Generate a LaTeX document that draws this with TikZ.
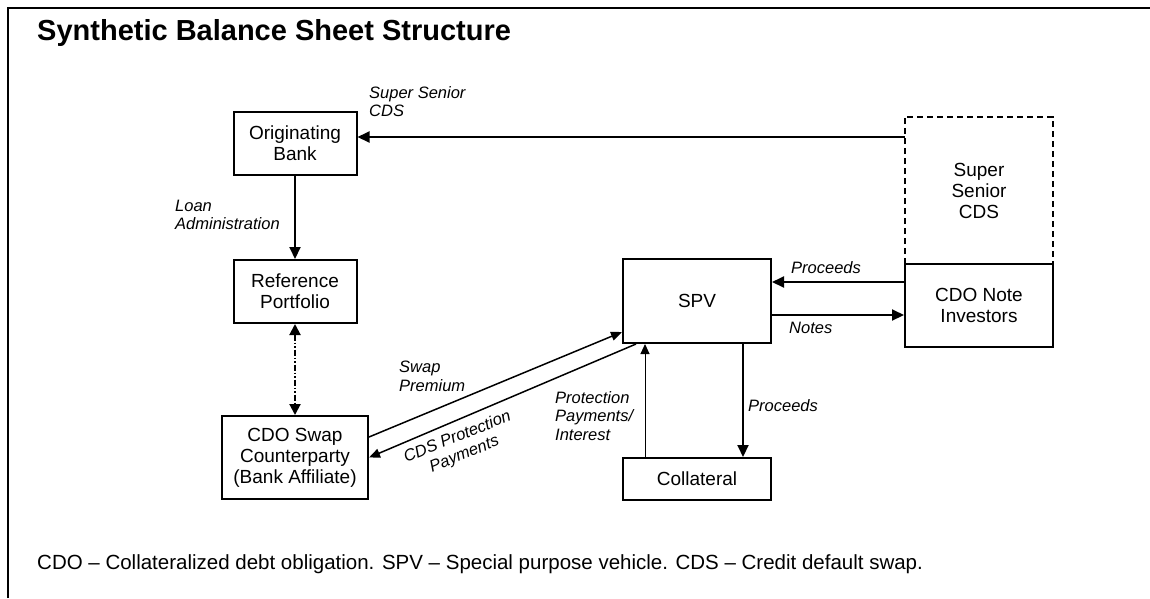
\documentclass[tikz,border=0pt]{standalone}
\usepackage{fontspec}
\setmainfont{Liberation Sans}
\usetikzlibrary{arrows.meta}

\newcommand{\boxfont}{\fontsize{19}{21}\selectfont}
\newcommand{\lblfont}{\fontsize{16.5}{18.5}\selectfont\itshape}

\begin{document}
\begin{tikzpicture}[x=1pt,y=-1pt,
    blk/.style={draw,line width=2pt,inner sep=0pt,align=center,font=\boxfont},
    lbl/.style={inner sep=0pt,align=left,font=\lblfont},
    arr/.style={line width=2pt,-{Triangle[length=12pt,width=11pt]}},
    thinarr/.style={line width=1pt,-{Triangle[length=10pt,width=9pt]}},
    slant/.style={line width=1.5pt,-{Triangle[length=11pt,width=9pt]}},
    dashbox/.style={line width=2pt,dash pattern=on 6pt off 4pt}]
        \useasboundingbox (0,0) rectangle (1150,598);
        % frame and title
        \draw[line width=2.5pt] (8,598) -- (8,8) -- (1150,8);
        \node[anchor=west,inner sep=0pt,font=\fontsize{29}{31}\selectfont\bfseries]
            (title) at (37,33) {Synthetic Balance Sheet Structure};
        % boxes
        \node[blk,minimum width=123,minimum height=63] (orig) at (295,143) {Originating\\Bank};
        \node[blk,minimum width=123,minimum height=63] (refport) at (295,291.5) {Reference\\Portfolio};
        \node[blk,minimum width=146,minimum height=83] (swapcp) at (295,457.5) {CDO Swap\\Counterparty\\(Bank Affiliate)};
        \node[blk,minimum width=148,minimum height=84] (spv) at (697,301) {SPV};
        \node[blk,minimum width=148,minimum height=42] (collat) at (697,479) {Collateral};
        \node[blk,minimum width=148,minimum height=83] (noteinv) at (979,305.5) {CDO Note\\Investors};
        \node[inner sep=0pt,align=center,font=\boxfont,minimum width=148,minimum height=147]
            (ssbox) at (979,190.5) {Super\\Senior\\CDS};
        \draw[dashbox] (ssbox.south west) -- (ssbox.north west) -- (ssbox.north east) -- (ssbox.south east);
        % connectors
        \coordinate (sstip) at ([yshift=6pt]orig.east);
        \draw[arr] (sstip -| ssbox.west) -- (sstip);
        \draw[arr] (orig.south) -- (refport.north);
        \draw[line width=2pt,{Triangle[length=11pt,width=11pt]}-{Triangle[length=11pt,width=11pt]},
            dash pattern=on 6pt off 2pt on 1.5pt off 2pt on 1.5pt off 2pt] (refport.south) -- (swapcp.north);
        \draw[slant] ([yshift=20.5pt]swapcp.east) -- ([yshift=-31pt]spv.west);
        \draw[slant] ([xshift=-61pt]spv.south) -- (swapcp.east);
        \draw[thinarr] ([xshift=-52pt]collat.north) -- ([xshift=-52pt]spv.south);
        \draw[arr] ([xshift=46pt]spv.south) -- ([xshift=46pt]collat.north);
        \draw[arr] ([yshift=23.5pt]noteinv.west) -- ([yshift=23.5pt]noteinv.west -| spv.east);
        \draw[arr] ([yshift=-14pt]spv.east) -- ([yshift=-14pt]spv.east -| noteinv.west);
        % connector labels
        \node[lbl,anchor=west] (sslbl) at (369,101.5) {Super Senior\\CDS};
        \node[lbl,anchor=west] (loanlbl) at (175,215) {Loan\\Administration};
        \node[lbl,anchor=west] (swaplbl) at (399,376.5) {Swap\\Premium};
        \node[lbl,align=center,rotate=22] (cdslbl) at (461,446) {CDS Protection\\Payments};
        \node[lbl,anchor=west] (protlbl) at (555,416) {Protection\\Payments/\\Interest};
        \node[lbl,anchor=west] (proclbl) at (748,406) {Proceeds};
        \node[lbl,anchor=west] (procinlbl) at (791,268) {Proceeds};
        \node[lbl,anchor=west] (noteslbl) at (789,328) {Notes};
        % footnote
        \node[anchor=west,inner sep=0pt,font=\fontsize{20.5}{22}\selectfont]
            (legend) at (37,564) {CDO -- Collateralized debt obligation. SPV -- Special purpose vehicle. CDS -- Credit default swap.};
    \end{tikzpicture}
\end{document}
